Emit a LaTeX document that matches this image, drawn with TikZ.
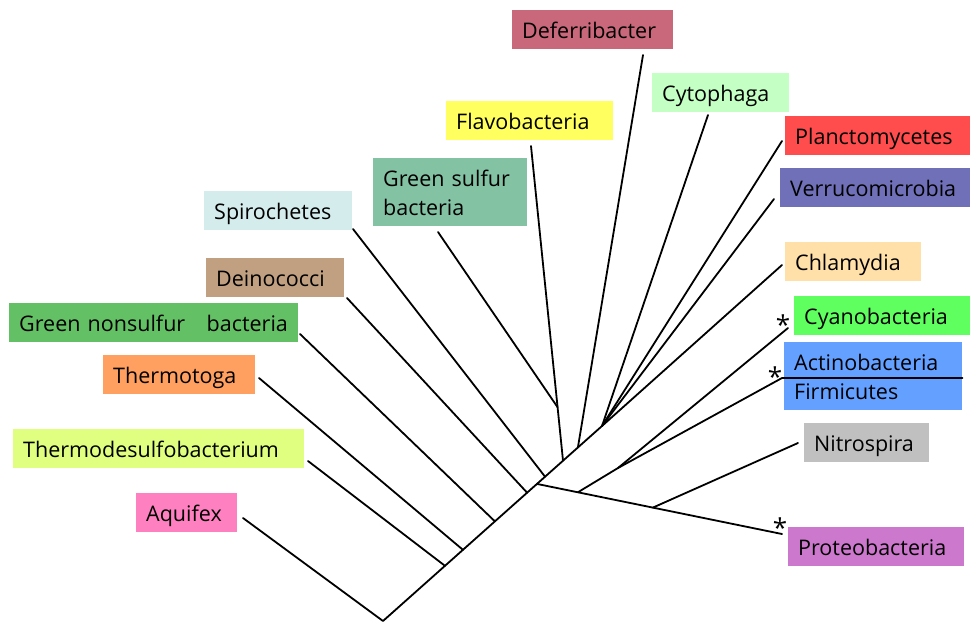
\documentclass[tikz,border=0pt]{standalone}
\usepackage{fontspec}
\setmainfont{Open Sans}
\usetikzlibrary{calc}

\newcommand\taxonfont{\fontsize{21.5}{29}\selectfont\lefthyphenmin=64 }

\definecolor{cdefer}{RGB}{200,104,122}
\definecolor{ccyto}{RGB}{196,255,196}
\definecolor{cflavo}{RGB}{255,255,96}
\definecolor{cplanc}{RGB}{255,76,76}
\definecolor{cverru}{RGB}{112,112,184}
\definecolor{cgsulf}{RGB}{132,194,164}
\definecolor{cspiro}{RGB}{212,236,236}
\definecolor{cchlam}{RGB}{255,224,168}
\definecolor{cdeino}{RGB}{192,160,128}
\definecolor{ccyano}{RGB}{96,255,96}
\definecolor{cgnons}{RGB}{100,192,100}
\definecolor{cactin}{RGB}{100,160,255}
\definecolor{cthmtg}{RGB}{255,160,96}
\definecolor{cnitro}{RGB}{192,192,192}
\definecolor{cthdsf}{RGB}{224,255,128}
\definecolor{caquif}{RGB}{255,128,192}
\definecolor{cprote}{RGB}{204,120,204}

\tikzset{
  taxon/.style={anchor=north west, inner xsep=10pt, inner ysep=6.5pt,
    text height=22pt, text depth=4pt, text width=#1, align=left, font=\taxonfont},
  branch/.style={line width=1.8pt},
  star/.style={anchor=base, inner sep=0pt, font=\fontsize{26}{26}\selectfont},
}

\begin{document}
\begin{tikzpicture}[x=1pt,y=-1pt,line cap=round,line join=round]
  \useasboundingbox (0,0) rectangle (970,622);

  % labels
  \node[taxon=141pt,fill=cdefer] (defer) at (512,10) {Deferribacter};
  \node[taxon=117pt,fill=ccyto] (cyto) at (652,73) {Cytophaga};
  \node[taxon=147pt,fill=cflavo] (flavo) at (446,101) {Flavobacteria};
  \node[taxon=165pt,fill=cplanc] (planc) at (785,116) {Planctomycetes};
  \node[taxon=170pt,fill=cverru] (verru) at (780,168) {Verrucomicrobia};
  \node[taxon=134pt,fill=cgsulf,text depth=33pt] (gsulf) at (373,158) {Green sulfur\\bacteria};
  \node[taxon=128pt,fill=cspiro] (spiro) at (204,191) {Spirochetes};
  \node[taxon=116pt,fill=cchlam] (chlam) at (785,242) {Chlamydia};
  \node[taxon=118pt,fill=cdeino] (deino) at (206,258) {Deinococci};
  \node[taxon=156pt,fill=ccyano] (cyano) at (794,296) {Cyanobacteria};
  \node[taxon=269pt,fill=cgnons] (gnons) at (9,303) {Green nonsulfur~~~bacteria};
  \node[taxon=158pt,fill=cactin,text depth=33pt] (actin) at (784,342) {Actinobacteria\\Firmicutes};
  \node[taxon=132pt,fill=cthmtg] (thmtg) at (103,355) {Thermotoga};
  \node[taxon=105pt,fill=cnitro] (nitro) at (804,423) {Nitrospira};
  \node[taxon=271pt,fill=cthdsf] (thdsf) at (13,429) {Thermodesulfobacterium};
  \node[taxon=81pt,fill=caquif] (aquif) at (136,493) {Aquifex};
  \node[taxon=156pt,fill=cprote] (prote) at (788,527) {Proteobacteria};

  \node[star] (s1) at (783,334) {*};
  \node[star] (s2) at (775,386) {*};
  \node[star] (s3) at (780,537) {*};

  % trunk and junctions
  \coordinate (root) at (383,621);
  \coordinate (fan) at (602,426);
  \coordinate (j1) at ($(root)!0.283!(fan)$);
  \coordinate (j2) at ($(root)!0.365!(fan)$);
  \coordinate (j3) at ($(root)!0.511!(fan)$);
  \coordinate (j4) at ($(root)!0.658!(fan)$);
  \coordinate (j5) at ($(root)!0.703!(fan)$);
  \coordinate (j6) at ($(root)!0.740!(fan)$);
  \coordinate (j7) at ($(root)!0.822!(fan)$);
  \coordinate (j8) at ($(root)!0.890!(fan)$);

  % free ends of the branches
  \coordinate (aq) at (243,518);
  \coordinate (td) at (308,461);
  \coordinate (tm) at (259,378);
  \coordinate (gn) at (300,334);
  \coordinate (de) at (347,298);
  \coordinate (sp) at (353,229);
  \coordinate (gs) at (438,232);
  \coordinate (fl) at (531,146);
  \coordinate (df) at (643,55);
  \coordinate (cy) at (708,115);
  \coordinate (pl) at (782,141);
  \coordinate (ve) at (774,199);
  \coordinate (ch) at (782,265);
  \coordinate (cb) at (788,328);
  \coordinate (ac) at (782,378);
  \coordinate (ni) at (798,443);
  \coordinate (pr) at (782,534);

  \coordinate (gsj) at ($(j7)!0.17!(fl)$);
  \coordinate (p1) at ($(j5)!0.167!(pr)$);
  \coordinate (p2) at (618,468);
  \coordinate (p3) at ($(j5)!0.473!(pr)$);

  \draw[branch] (aq) -- (root) -- (fan);
  \draw[branch] (td) -- (j1);
  \draw[branch] (tm) -- (j2);
  \draw[branch] (gn) -- (j3);
  \draw[branch] (de) -- (j4);
  \draw[branch] (sp) -- (j6);
  \draw[branch] (fl) -- (j7);
  \draw[branch] (gs) -- (gsj);
  \draw[branch] (df) -- (j8);
  \draw[branch] (cy) -- (fan);
  \draw[branch] (pl) -- (fan);
  \draw[branch] (ve) -- (fan);
  \draw[branch] (ch) -- (fan);
  \draw[branch] (j5) -- (pr);
  \draw[branch] (p1) -- (p2) -- (cb);
  \draw[branch] (p2) -- (ac) -- (ac -| actin.east);
  \draw[branch] (p3) -- (ni);
\end{tikzpicture}
\end{document}
